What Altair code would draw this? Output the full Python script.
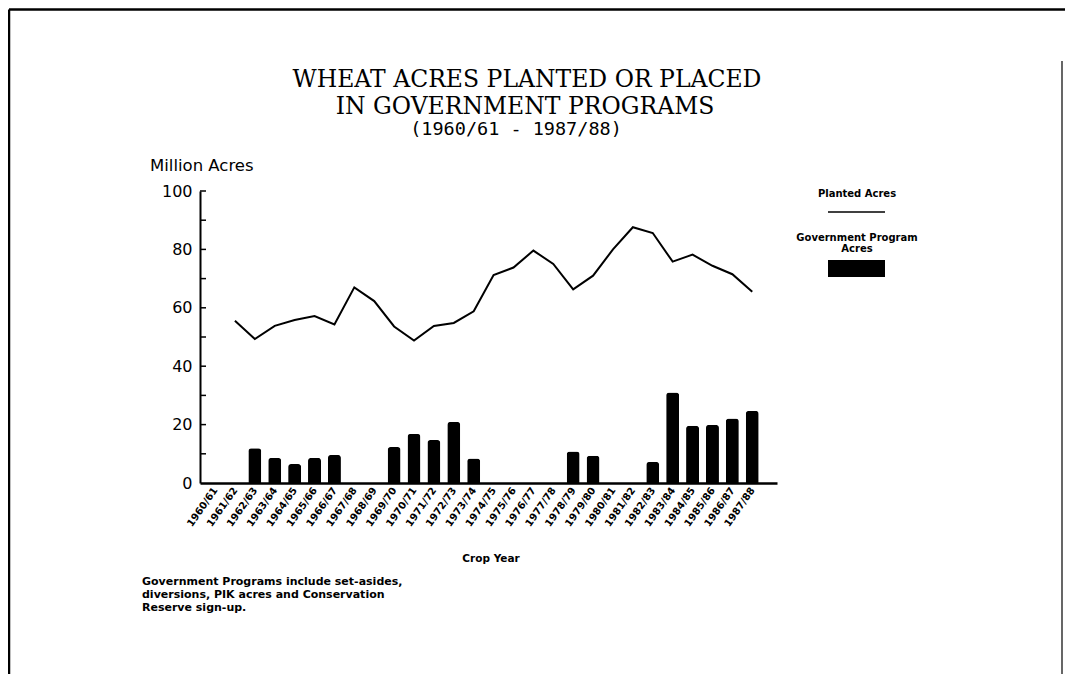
import altair as alt
import pandas as pd

# ---------------- data ----------------
crop_years = ["1960/61", "1961/62", "1962/63", "1963/64", "1964/65", "1965/66", "1966/67",
              "1967/68", "1968/69", "1969/70", "1970/71", "1971/72", "1972/73", "1973/74",
              "1974/75", "1975/76", "1976/77", "1977/78", "1978/79", "1979/80", "1980/81",
              "1981/82", "1982/83", "1983/84", "1984/85", "1985/86", "1986/87", "1987/88"]
planted_acres = [None, 55.6, 49.3, 53.8, 55.8, 57.2, 54.3, 67.0, 62.3, 53.6, 48.8, 53.8, 54.8,
                 58.8, 71.2, 73.8, 79.6, 75.0, 66.3, 71.0, 80.0, 87.6, 85.6, 75.8, 78.2, 74.4,
                 71.5, 65.5]
program_acres = [0, 0, 11.9, 8.6, 6.5, 8.6, 9.6, 0, 0, 12.3, 16.8, 14.7, 20.9, 8.4, 0, 0, 0, 0,
                 10.8, 9.3, 0, 0, 7.2, 31.0, 19.6, 19.9, 22.1, 24.7]
y_labels = [0, 20, 40, 60, 80, 100]
y_ticks = [10, 20, 30, 40, 50, 60, 70, 80, 90, 100]

title_lines = ["WHEAT ACRES PLANTED OR PLACED", "IN GOVERNMENT PROGRAMS"]
subtitle = "(1960/61 - 1987/88)"
y_title = "Million Acres"
x_title = "Crop Year"
legend_line = "Planted Acres"
legend_bar = ["Government Program", "Acres"]
footnote = ["Government Programs include set-asides,",
            "diversions, PIK acres and Conservation",
            "Reserve sign-up."]

df = pd.DataFrame({"year": crop_years, "planted": planted_acres, "program": program_acres})

W, H = 577, 292
x_scale = alt.Scale(type="point", domain=crop_years, padding=1.0125, align=0.378)
y_scale = alt.Scale(domain=[0, 100], nice=False)

x_axis = alt.Axis(labelAngle=-55, labelAlign="right", labelBaseline="middle",
                  labelFont="DejaVu Sans", labelFontWeight="bold", labelFontSize=10,
                  labelColor="black", ticks=False, domainColor="black", domainWidth=2.5,
                  labelPadding=5, grid=False, title=None, labelOverlap=False,
                  labelFlush=False, labelBound=False)
y_axis = alt.Axis(values=y_labels, labelFont="DejaVu Sans", labelFontSize=16,
                  labelColor="black", ticks=False, domainColor="black", domainWidth=2,
                  labelPadding=8, grid=False, title=None)

bars = alt.Chart(df).transform_filter("datum.program > 0").mark_bar(
    color="black", size=13, cornerRadiusTopLeft=3, cornerRadiusTopRight=3
).encode(
    x=alt.X("year:O", scale=x_scale, axis=x_axis, sort=crop_years),
    y=alt.Y("program:Q", scale=y_scale, axis=y_axis),
)

line = alt.Chart(df).transform_filter("isValid(datum.planted)").mark_line(
    color="black", strokeWidth=2
).encode(
    x=alt.X("year:O", scale=x_scale, sort=crop_years),
    y=alt.Y("planted:Q", scale=y_scale),
)

ticks = alt.Chart(pd.DataFrame({"v": y_ticks})).mark_rule(color="black", strokeWidth=1.5).encode(
    y=alt.Y("v:Q", scale=y_scale),
    x=alt.value(0), x2=alt.value(6),
)


def txt(s, x, y, size, font="DejaVu Sans", weight="normal", align="center"):
    return alt.Chart(pd.DataFrame({"t": [s]})).mark_text(
        align=align, baseline="alphabetic", font=font, fontSize=size,
        fontWeight=weight, color="black"
    ).encode(text="t:N", x=alt.value(x), y=alt.value(y))


one = pd.DataFrame({"k": [0]})


def rule(x1, x2, y1, y2, w=2):
    return alt.Chart(one).mark_rule(color="black", strokeWidth=w).encode(
        x=alt.value(x1), x2=alt.value(x2), y=alt.value(y1), y2=alt.value(y2))


texts = [
    txt(title_lines[0], 327, -104, 23.5, font="DejaVu Serif"),
    txt(title_lines[1], 325, -77, 23.5, font="DejaVu Serif"),
    txt(subtitle, 316, -56, 18.5, font="DejaVu Sans Mono"),
    txt(y_title, -50, -20, 16.5, align="left"),
    txt(legend_line, 657, 6, 10, weight="bold"),
    txt(legend_bar[0], 657, 50, 10, weight="bold"),
    txt(legend_bar[1], 657, 61, 10, weight="bold"),
    txt(x_title, 291, 371, 10.5, weight="bold"),
    txt(footnote[0], -58, 394, 11, weight="bold", align="left"),
    txt(footnote[1], -58, 407, 11, weight="bold", align="left"),
    txt(footnote[2], -58, 420, 11, weight="bold", align="left"),
]

legend_rect = alt.Chart(one).mark_rect(color="black").encode(
    x=alt.value(628), x2=alt.value(685), y=alt.value(69), y2=alt.value(86))

decor = [
    rule(628, 685, 21, 21, 1.5),            # legend line sample
    rule(-191, 866, -181.5, -181.5, 2.5),   # frame top
    rule(-191, -191, -181.5, 490, 2.5),     # frame left
    rule(862, 862, -130, 490, 1.2),         # frame right
    legend_rect,
]

chart = alt.layer(bars, line, ticks, *texts, *decor).properties(
    width=W, height=H,
    padding={"left": 192, "top": 183, "right": 288, "bottom": 191},
    autosize=alt.AutoSizeParams(type="none"),
    background="white",
).configure_view(stroke=None)

chart.save("out.html", embed_options={"renderer": "svg", "actions": False})
